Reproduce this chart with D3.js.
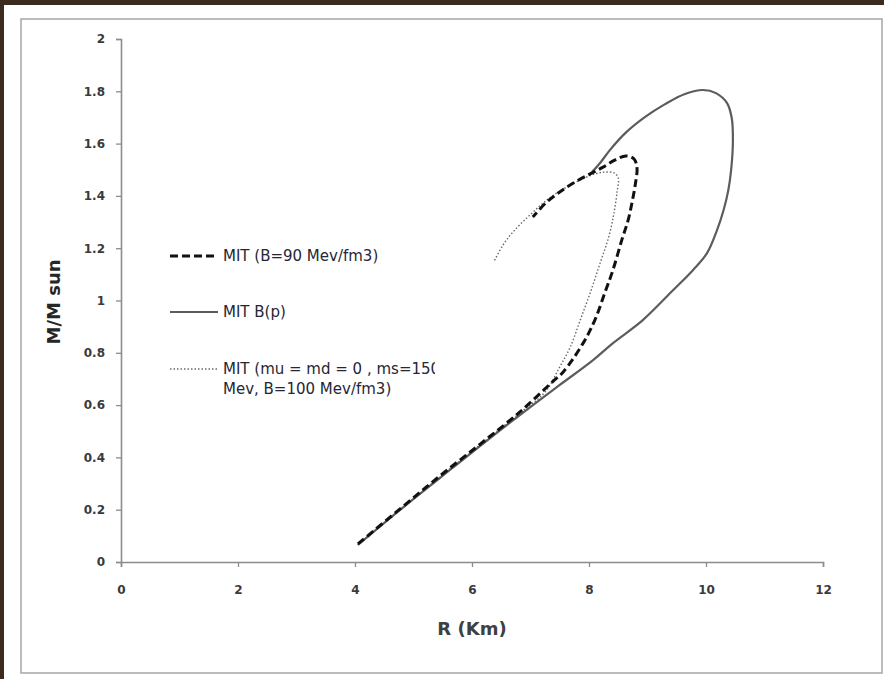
<!DOCTYPE html>
<html>
<head>
<meta charset="utf-8">
<script src="https://cdn.jsdelivr.net/npm/d3@7"></script>
<style>
  html, body { margin: 0; padding: 0; background: #3b2a1d; }
  svg { display: block; }
</style>
</head>
<body>
<script>
// *** DATA ***

// x ticks (R, Km) and y ticks (M/M sun)
var xTicks = [0, 2, 4, 6, 8, 10, 12];
var yTicks = [0, 0.2, 0.4, 0.6, 0.8, 1, 1.2, 1.4, 1.6, 1.8, 2];
var yTickLabels = ["0", "0.2", "0.4", "0.6", "0.8", "1", "1.2", "1.4", "1.6", "1.8", "2"];

// MIT (B=90 Mev/fm3)  -- [R, M]
var mitB90 = [
  [4.05, 0.069], [4.77, 0.203], [5.45, 0.329], [6.14, 0.451], [6.82, 0.574],
  [7.38, 0.690], [7.56, 0.727], [7.90, 0.837], [8.10, 0.925], [8.27, 1.029],
  [8.41, 1.117], [8.56, 1.231], [8.67, 1.308], [8.74, 1.380], [8.79, 1.442],
  [8.82, 1.507], [8.77, 1.541], [8.63, 1.553], [8.44, 1.537], [8.24, 1.510],
  [8.02, 1.484], [7.76, 1.453], [7.50, 1.415], [7.26, 1.373], [7.04, 1.319]
];

// MIT B(p)
var mitBp = [
  [4.05, 0.065], [4.77, 0.199], [5.45, 0.321], [6.31, 0.474], [7.16, 0.620],
  [7.50, 0.677], [8.07, 0.772], [8.41, 0.837], [8.92, 0.925], [9.44, 1.040],
  [9.78, 1.117], [10.02, 1.182], [10.19, 1.270], [10.30, 1.345], [10.38, 1.420],
  [10.43, 1.500], [10.46, 1.614], [10.44, 1.698], [10.36, 1.755], [10.17, 1.793],
  [9.95, 1.805], [9.64, 1.790], [9.30, 1.751], [8.96, 1.702], [8.62, 1.640],
  [8.36, 1.576], [8.19, 1.526], [8.05, 1.491]
];

// MIT (mu = md = 0, ms=150 Mev, B=100 Mev/fm3)
var mitMs150 = [
  [4.05, 0.065], [5.45, 0.325], [6.82, 0.570], [7.25, 0.650], [7.50, 0.746],
  [7.68, 0.822], [7.85, 0.925], [8.02, 1.029], [8.19, 1.143], [8.34, 1.245],
  [8.43, 1.338], [8.48, 1.415], [8.50, 1.468], [8.43, 1.488], [8.27, 1.491],
  [8.10, 1.484], [7.85, 1.461], [7.59, 1.430], [7.30, 1.388], [6.99, 1.327],
  [6.70, 1.262], [6.53, 1.212], [6.38, 1.151]
];

var seriesNames = ["MIT  (B=90 Mev/fm3)", "MIT B(p)", "MIT (mu = md = 0 , ms=150", "Mev, B=100 Mev/fm3)"];

// *** LAYOUT ***

var W = 884, H = 679;
var plot = {left: 121, right: 823, top: 39, bottom: 562};
var fontFam = "'DejaVu Sans', Verdana, sans-serif";

var svg = d3.select("body").append("svg")
  .attr("width", W)
  .attr("height", H);

// white page over the dark frame
svg.append("rect")
  .attr("x", 4).attr("y", 5)
  .attr("width", W - 4).attr("height", H - 5)
  .attr("fill", "#ffffff");

// chart border
svg.append("rect")
  .attr("x", 21).attr("y", 19)
  .attr("width", 861).attr("height", 654)
  .attr("fill", "none")
  .attr("stroke", "#a6a6a6")
  .attr("stroke-width", 1.5);

var x = d3.scaleLinear().domain([0, 12]).range([plot.left, plot.right]);
var y = d3.scaleLinear().domain([0, 2]).range([plot.bottom, plot.top]);

// AXES

var xAxis = d3.axisBottom(x)
  .tickValues(xTicks)
  .tickSize(5)
  .tickPadding(18)
  .tickFormat(d3.format("d"));

var gx = svg.append("g")
  .attr("transform", "translate(0," + plot.bottom + ")")
  .call(xAxis);

var yAxis = d3.axisLeft(y)
  .tickValues(yTicks)
  .tickSize(5)
  .tickPadding(11)
  .tickFormat(function(d, i) { return yTickLabels[i]; });

var gy = svg.append("g")
  .attr("transform", "translate(" + plot.left + ",0)")
  .call(yAxis);

[gx, gy].forEach(function(g) {
  g.select(".domain").attr("stroke", "#8c8c8c").attr("stroke-width", 1.6);
  g.selectAll(".tick line").attr("stroke", "#8c8c8c").attr("stroke-width", 1.3);
  g.selectAll(".tick text")
    .attr("fill", "#3a3a3a")
    .style("font-family", fontFam)
    .style("font-size", "12px")
    .style("font-weight", "bold");
});

// axis titles
svg.append("text")
  .attr("x", 472).attr("y", 635)
  .attr("text-anchor", "middle")
  .attr("fill", "#404040")
  .style("font-family", fontFam)
  .style("font-size", "18px")
  .style("font-weight", "bold")
  .text("R (Km)");

svg.append("text")
  .attr("transform", "translate(60,302) rotate(-90)")
  .attr("text-anchor", "middle")
  .attr("fill", "#262626")
  .style("font-family", fontFam)
  .style("font-size", "18px")
  .style("font-weight", "bold")
  .text("M/M sun");

// CURVES

var line = d3.line()
  .x(function(d) { return x(d[0]); })
  .y(function(d) { return y(d[1]); })
  .curve(d3.curveCatmullRom.alpha(0.5));

var styles = [
  {data: mitMs150, stroke: "#6a6a6a", width: 1.4, dash: "1.5,2"},
  {data: mitBp, stroke: "#5c5c5c", width: 2.2, dash: null},
  {data: mitB90, stroke: "#111111", width: 3, dash: "8,4"}
];

svg.selectAll("path.curve").data(styles)
  .enter()
  .append("path")
    .attr("class", "curve")
    .attr("d", function(d) { return line(d.data); })
    .attr("fill", "none")
    .attr("stroke", function(d) { return d.stroke; })
    .attr("stroke-width", function(d) { return d.width; })
    .attr("stroke-dasharray", function(d) { return d.dash; })
    .attr("stroke-linejoin", "round");

// LEGEND

var legend = [
  {y: 256, stroke: "#111111", width: 3, dash: "8,4", text: [seriesNames[0]]},
  {y: 312, stroke: "#5c5c5c", width: 2.2, dash: null, text: [seriesNames[1]]},
  {y: 369, stroke: "#6a6a6a", width: 1.4, dash: "1.5,2", text: [seriesNames[2], seriesNames[3]]}
];

svg.append("clipPath").attr("id", "legclip")
  .append("rect").attr("x", 150).attr("y", 230).attr("width", 285).attr("height", 180);

var lg = svg.append("g").attr("clip-path", "url(#legclip)");

lg.selectAll("line").data(legend)
  .enter()
  .append("line")
    .attr("x1", 170).attr("x2", 218)
    .attr("y1", function(d) { return d.y; })
    .attr("y2", function(d) { return d.y; })
    .attr("stroke", function(d) { return d.stroke; })
    .attr("stroke-width", function(d) { return d.width; })
    .attr("stroke-dasharray", function(d) { return d.dash; });

lg.selectAll("text").data(legend)
  .enter()
  .append("text")
    .attr("x", 223)
    .attr("y", function(d) { return d.y + 5; })
    .attr("fill", "#262636")
    .style("font-family", fontFam)
    .style("font-size", "15px")
    .each(function(d) {
      var t = d3.select(this);
      d.text.forEach(function(s, i) {
        t.append("tspan").attr("x", 223).attr("dy", i === 0 ? 0 : 20).text(s);
      });
    });
</script>
</body>
</html>
